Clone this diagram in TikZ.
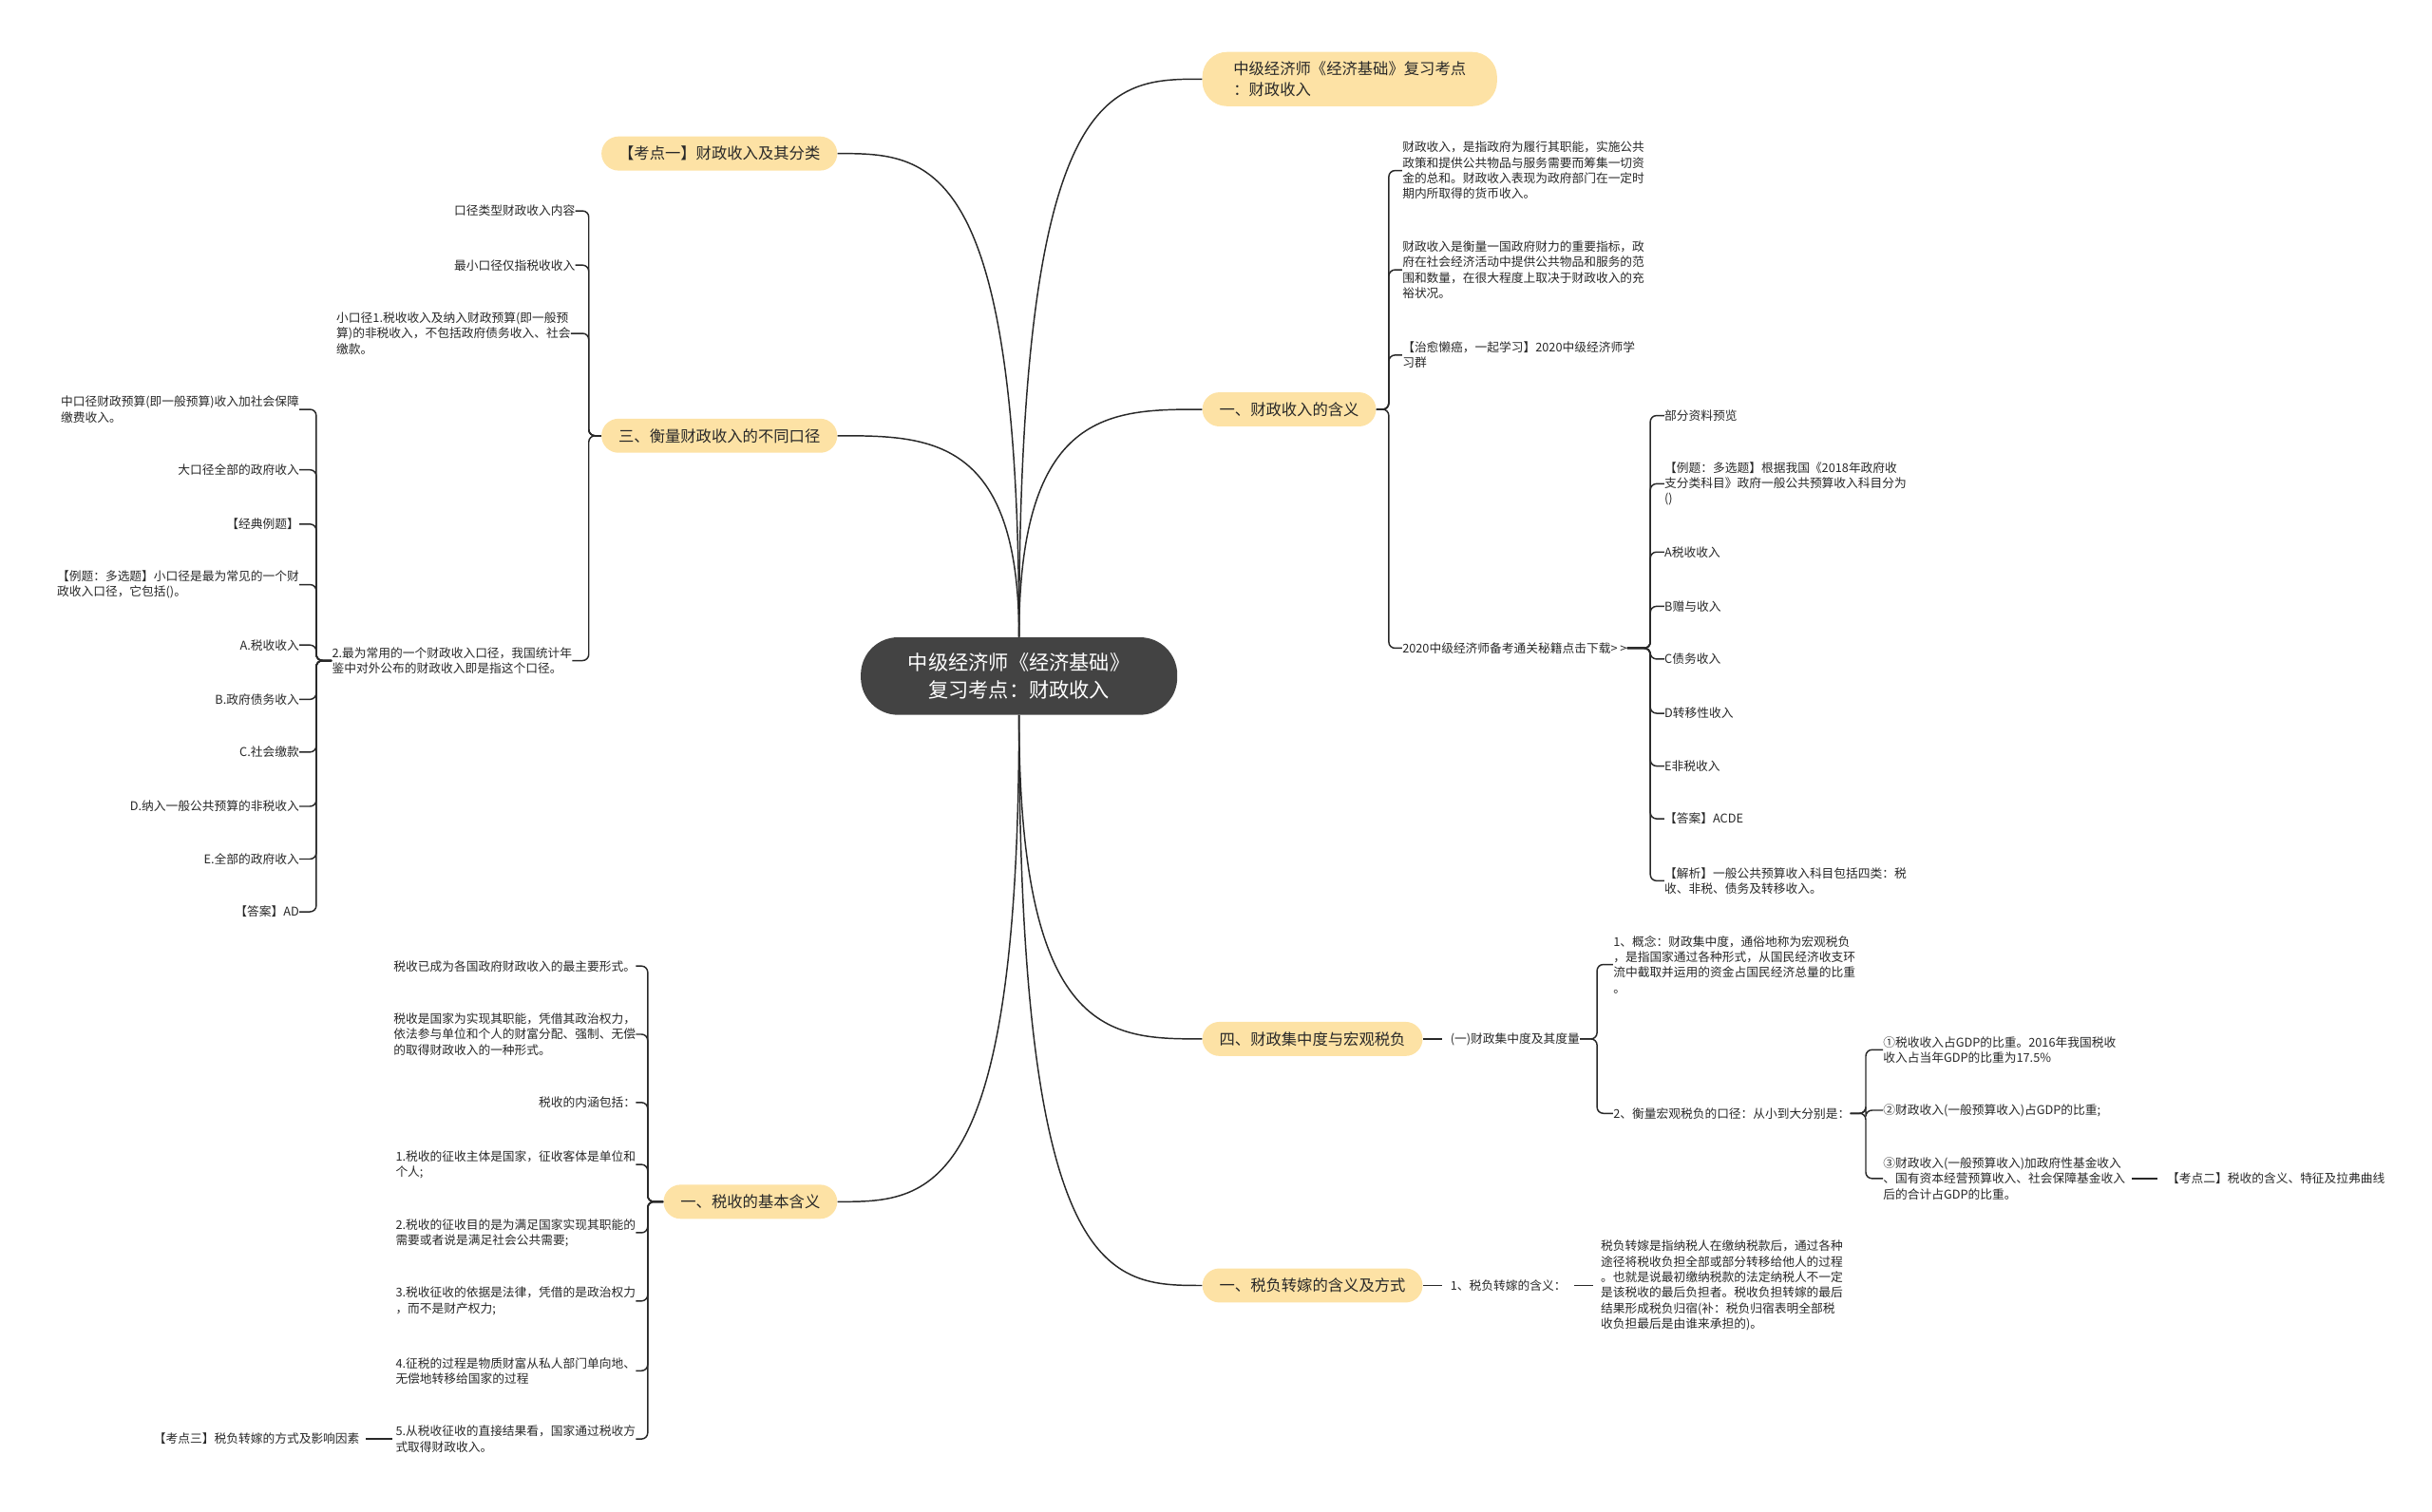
\documentclass[tikz,border=0pt]{standalone}
\usepackage{fontspec}
\setmainfont{Noto Sans CJK SC}
\usetikzlibrary{calc}
\definecolor{rootgray}{RGB}{67,67,67}
\definecolor{topicyellow}{RGB}{253,226,165}
\definecolor{inkgray}{RGB}{40,40,40}
\newcommand{\leaffont}{\fontsize{7.8}{10}\selectfont}
\newcommand{\topicfont}{\fontsize{10}{13}\selectfont}
\newcommand{\rootfont}{\fontsize{13}{18}\selectfont}

\begin{document}
\begin{tikzpicture}[x=1pt,y=-1pt,
  root/.style={fill=rootgray,text=white,rounded corners=24pt,minimum width=204pt,minimum height=50pt,align=center,font=\rootfont},
  topic/.style={fill=topicyellow,text=inkgray,rounded corners=11pt,minimum height=22pt,inner xsep=11pt,inner ysep=0pt,font=\topicfont},
  leaf/.style={text=inkgray,inner sep=0pt,align=left,font=\leaffont},
  link/.style={draw=inkgray,line width=0.9pt},
  bracket/.style={link,rounded corners=4pt}]
\useasboundingbox (0,0) rectangle (1568,975);

\node[root] (root) at (657,436) {中级经济师《经济基础》\\复习考点：财政收入};

\node[topic,anchor=west,align=left,inner xsep=17pt,minimum width=190pt,minimum height=35pt,rounded corners=16pt] (kaodian) at (775,51) {中级经济师《经济基础》复习考点\\：财政收入};
\node[topic,anchor=west] (hanyi) at (775,264) {一、财政收入的含义};
\node[topic,anchor=west] (jizhong) at (775,670) {四、财政集中度与宏观税负};
\node[topic,anchor=west] (zhuanjia) at (775,829) {一、税负转嫁的含义及方式};
\node[topic,anchor=east] (fenlei) at (540,99) {【考点一】财政收入及其分类};
\node[topic,anchor=east] (koujing) at (540,281) {三、衡量财政收入的不同口径};
\node[topic,anchor=east] (shuishou) at (540,775) {一、税收的基本含义};

\foreach \t in {kaodian,hanyi}
  \draw[link] (root.north) .. controls (root.north |- \t.west) and ($(root.north |- \t.west)!0.5!(\t.west)$) .. (\t.west);
\foreach \t in {jizhong,zhuanjia}
  \draw[link] (root.south) .. controls (root.south |- \t.west) and ($(root.south |- \t.west)!0.5!(\t.west)$) .. (\t.west);
\foreach \t in {fenlei,koujing}
  \draw[link] (root.north) .. controls (root.north |- \t.east) and ($(root.north |- \t.east)!0.5!(\t.east)$) .. (\t.east);
\draw[link] (root.south) .. controls (root.south |- shuishou.east) and ($(root.south |- shuishou.east)!0.5!(shuishou.east)$) .. (shuishou.east);

% 财政收入的含义
\node[leaf,anchor=west] (hanyi1) at (904,110) {财政收入，是指政府为履行其职能，实施公共\\政策和提供公共物品与服务需要而筹集一切资\\金的总和。财政收入表现为政府部门在一定时\\期内所取得的货币收入。};
\node[leaf,anchor=west] (hanyi2) at (904,174) {财政收入是衡量一国政府财力的重要指标，政\\府在社会经济活动中提供公共物品和服务的范\\围和数量，在很大程度上取决于财政收入的充\\裕状况。};
\node[leaf,anchor=west] (hanyi3) at (904,229) {【治愈懒癌，一起学习】2020中级经济师学\\习群};
\node[leaf,anchor=west] (xiazai) at (904,418) {2020中级经济师备考通关秘籍点击下载> >};
\foreach \c in {hanyi1,hanyi2,hanyi3,xiazai}
  \draw[bracket] (hanyi.east) -- ++(8,0) |- (\c.west);

\node[leaf,anchor=west] (yuelan) at (1073,268) {部分资料预览};
\node[leaf,anchor=west] (liti) at (1073,312) {【例题：多选题】根据我国《2018年政府收\\支分类科目》政府一般公共预算收入科目分为\\()};
\node[leaf,anchor=west] (xa) at (1073,356) {A税收收入};
\node[leaf,anchor=west] (xb) at (1073,391) {B赠与收入};
\node[leaf,anchor=west] (xc) at (1073,425) {C债务收入};
\node[leaf,anchor=west] (xd) at (1073,460) {D转移性收入};
\node[leaf,anchor=west] (xe) at (1073,494) {E非税收入};
\node[leaf,anchor=west] (daan) at (1073,528) {【答案】ACDE};
\node[leaf,anchor=west] (jiexi) at (1073,568) {【解析】一般公共预算收入科目包括四类：税\\收、非税、债务及转移收入。};
\foreach \c in {yuelan,liti,xa,xb,xc,xd,xe,daan,jiexi}
  \draw[bracket] (xiazai.east) -- (1064,418) |- (\c.west);

% 财政集中度
\node[leaf,anchor=west] (duliang) at (935,670) {(一)财政集中度及其度量};
\draw[link,shorten >=5pt] (jizhong.east) -- (duliang.west);
\node[leaf,anchor=west] (gainian) at (1040,622) {1、概念：财政集中度，通俗地称为宏观税负\\，是指国家通过各种形式，从国民经济收支环\\流中截取并运用的资金占国民经济总量的比重\\。};
\node[leaf,anchor=west] (hongguan) at (1040,718) {2、衡量宏观税负的口径：从小到大分别是：};
\foreach \c in {gainian,hongguan}
  \draw[bracket] (duliang.east) -- ++(11,0) |- (\c.west);
\node[leaf,anchor=west] (bili1) at (1214,677) {①税收收入占GDP的比重。2016年我国税收\\收入占当年GDP的比重为17.5\%};
\node[leaf,anchor=west] (bili2) at (1214,716) {②财政收入(一般预算收入)占GDP的比重;};
\node[leaf,anchor=west] (bili3) at (1214,760) {③财政收入(一般预算收入)加政府性基金收入\\、国有资本经营预算收入、社会保障基金收入\\后的合计占GDP的比重。};
\foreach \c in {bili1,bili2,bili3}
  \draw[bracket] (hongguan.east) -- ++(10,0) |- (\c.west);
\node[leaf,anchor=west] (kaodian2) at (1397,760) {【考点二】税收的含义、特征及拉弗曲线};
\draw[link,shorten <=4pt,shorten >=6pt] (bili3.east) -- (kaodian2.west);

% 税负转嫁
\node[leaf,anchor=west] (zjhanyi) at (935,829) {1、税负转嫁的含义：};
\draw[link,shorten >=5pt] (zhuanjia.east) -- (zjhanyi.west);
\node[leaf,anchor=west] (zjshuoming) at (1032,829) {税负转嫁是指纳税人在缴纳税款后，通过各种\\途径将税收负担全部或部分转移给他人的过程\\。也就是说最初缴纳税款的法定纳税人不一定\\是该税收的最后负担者。税收负担转嫁的最后\\结果形成税负归宿(补：税负归宿表明全部税\\收负担最后是由谁来承担的)。};
\draw[link,shorten <=5pt,shorten >=5pt] (zjhanyi.east) -- (zjshuoming.west);

% 不同口径
\node[leaf,anchor=east] (kj1) at (371,136) {口径类型财政收入内容};
\node[leaf,anchor=east] (kj2) at (371,171) {最小口径仅指税收收入};
\node[leaf,anchor=east] (kj3) at (368,215) {小口径1.税收收入及纳入财政预算(即一般预\\算)的非税收入，不包括政府债务收入、社会\\缴款。};
\node[leaf,anchor=east] (kj4) at (369,426) {2.最为常用的一个财政收入口径，我国统计年\\鉴中对外公布的财政收入即是指这个口径。};
\foreach \c in {kj1,kj2,kj3,kj4}
  \draw[bracket] (koujing.west) -- ++(-8,0) |- (\c.east);

\node[leaf,anchor=east] (zhong) at (193,264) {中口径财政预算(即一般预算)收入加社会保障\\缴费收入。};
\node[leaf,anchor=east] (da) at (193,303) {大口径全部的政府收入};
\node[leaf,anchor=east] (jingdian) at (193,338) {【经典例题】};
\node[leaf,anchor=east] (liti2) at (193,377) {【例题：多选题】小口径是最为常见的一个财\\政收入口径，它包括()。};
\node[leaf,anchor=east] (la) at (193,416) {A.税收收入};
\node[leaf,anchor=east] (lb) at (193,451) {B.政府债务收入};
\node[leaf,anchor=east] (lc) at (193,485) {C.社会缴款};
\node[leaf,anchor=east] (ld) at (193,520) {D.纳入一般公共预算的非税收入};
\node[leaf,anchor=east] (le) at (193,554) {E.全部的政府收入};
\node[leaf,anchor=east] (daan2) at (193,588) {【答案】AD};
\foreach \c in {zhong,da,jingdian,liti2,la,lb,lc,ld,le,daan2}
  \draw[bracket] (kj4.west) -- ++(-10,0) |- (\c.east);

% 税收的基本含义
\node[leaf,anchor=east] (ss1) at (410,623) {税收已成为各国政府财政收入的最主要形式。};
\node[leaf,anchor=east] (ss2) at (410,667) {税收是国家为实现其职能，凭借其政治权力，\\依法参与单位和个人的财富分配、强制、无偿\\的取得财政收入的一种形式。};
\node[leaf,anchor=east] (ss3) at (410,711) {税收的内涵包括：};
\node[leaf,anchor=east] (ss4) at (410,751) {1.税收的征收主体是国家，征收客体是单位和\\个人;};
\node[leaf,anchor=east] (ss5) at (410,795) {2.税收的征收目的是为满足国家实现其职能的\\需要或者说是满足社会公共需要;};
\node[leaf,anchor=east] (ss6) at (410,839) {3.税收征收的依据是法律，凭借的是政治权力\\，而不是财产权力;};
\node[leaf,anchor=east] (ss7) at (410,884) {4.征税的过程是物质财富从私人部门单向地、\\无偿地转移给国家的过程};
\node[leaf,anchor=east] (ss8) at (410,928) {5.从税收征收的直接结果看，国家通过税收方\\式取得财政收入。};
\foreach \c in {ss1,ss2,ss3,ss4,ss5,ss6,ss7,ss8}
  \draw[bracket] (shuishou.west) -- ++(-10,0) |- (\c.east);
\node[leaf,anchor=east] (kaodian3) at (232,928) {【考点三】税负转嫁的方式及影响因素};
\draw[link,shorten <=2pt,shorten >=4pt] (ss8.west) -- (kaodian3.east);
\end{tikzpicture}
\end{document}
